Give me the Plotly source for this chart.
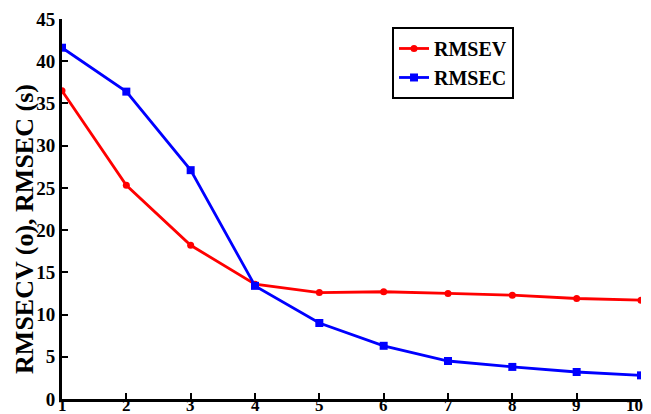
import plotly.graph_objects as go

components = [1, 2, 3, 4, 5, 6, 7, 8, 9, 10]
rmsev = [36.5, 25.3, 18.2, 13.6, 12.6, 12.7, 12.5, 12.3, 11.9, 11.7]
rmsec = [41.6, 36.4, 27.1, 13.4, 9.0, 6.3, 4.5, 3.8, 3.2, 2.8]
yticks = [0, 5, 10, 15, 20, 25, 30, 35, 40, 45]
xtick_labels = [str(v) for v in components]

font_family = "Liberation Serif"

fig = go.Figure()
fig.add_trace(go.Scatter(
    x=components, y=rmsev, name="<b>RMSEV</b>", mode="lines+markers",
    line=dict(color="#ff0000", width=2.8),
    marker=dict(symbol="circle", size=7, color="#ff0000"),
))
fig.add_trace(go.Scatter(
    x=components, y=rmsec, name="<b>RMSEC</b>", mode="lines+markers",
    line=dict(color="#0000ff", width=2.8),
    marker=dict(symbol="square", size=8, color="#0000ff"),
))

annotations = [dict(
    text="<b>RMSECV (o), RMSEC (s)</b>",
    xref="paper", yref="paper", x=-0.066, y=0.447,
    xanchor="center", yanchor="middle", textangle=-90,
    showarrow=False, font=dict(family=font_family, size=26, color="black"),
)]
for i, (xv, lab) in enumerate(zip(components, xtick_labels)):
    annotations.append(dict(
        text=f"<b>{lab}</b>", xref="x", yref="paper", x=xv, y=0,
        xanchor="center", yanchor="top", yshift=5,
        xshift=-7 if i == len(components) - 1 else 0, showarrow=False,
        font=dict(family=font_family, size=17, color="black"),
    ))

fig.update_layout(
    width=651, height=414,
    margin=dict(l=54, r=18, t=11, b=23, autoexpand=False),
    paper_bgcolor="white", plot_bgcolor="white",
    font=dict(family=font_family, size=19, color="black"),
    showlegend=True,
    legend=dict(
        x=0.570, y=0.979, xanchor="left", yanchor="top",
        bordercolor="black", borderwidth=2, bgcolor="white",
        font=dict(family=font_family, size=20, color="black"),
        tracegroupgap=0,
    ),
    xaxis=dict(
        range=[1, 10], tickvals=components, showticklabels=False,
        showgrid=False, zeroline=False, automargin=False,
        showline=True, linecolor="black", linewidth=3,
        ticks="inside", ticklen=6, tickwidth=2, tickcolor="black",
    ),
    yaxis=dict(
        range=[0, 45], tickvals=yticks,
        ticktext=[f"<b>{v}</b>" for v in yticks],
        showgrid=False, zeroline=False, automargin=False,
        showline=True, linecolor="black", linewidth=3,
        ticks="inside", ticklen=6, tickwidth=2, tickcolor="black",
        tickfont=dict(family=font_family, size=19),
    ),
    annotations=annotations,
)

fig.write_html("out.html")
